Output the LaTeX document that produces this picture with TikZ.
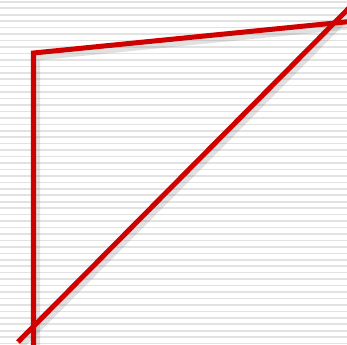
\documentclass[tikz,border=0pt]{standalone}
\usepackage{tikz}
\usetikzlibrary{calc}
\definecolor{LineRed}{RGB}{206,0,0}
\definecolor{StripeGray}{RGB}{226,226,226}
\definecolor{ShadowGray}{RGB}{120,120,120}

\begin{document}
\begin{tikzpicture}[x=0.01cm,y=-0.01cm]
      \useasboundingbox (0,0) rectangle (347,345);
      % striped background
      \foreach \k in {0,...,53}
        \fill[StripeGray] (0,{1+6.45*\k}) rectangle (347,{2.6+6.45*\k});
      \coordinate (base) at (33.5,350);
      \coordinate (corner) at (33.5,53);
      \coordinate (topend) at (350,21.5);
      \coordinate (diagstart) at (18,342);
      \coordinate (diagend) at (352,5);
      % shadows
      \draw[ShadowGray,opacity=0.22,line width=0.08cm]
        ($(base)+(2.5,3.5)$)--($(corner)+(2.5,3.5)$)--($(topend)+(2.5,3.5)$);
      \draw[ShadowGray,opacity=0.22,line width=0.08cm]
        ($(diagstart)+(2.5,3.5)$)--($(diagend)+(2.5,3.5)$);
      % red lines
      \draw[LineRed,line width=0.05cm,line join=miter] (base)--(corner)--(topend);
      \draw[LineRed,line width=0.05cm] (diagstart)--(diagend);
    \end{tikzpicture}
\end{document}
